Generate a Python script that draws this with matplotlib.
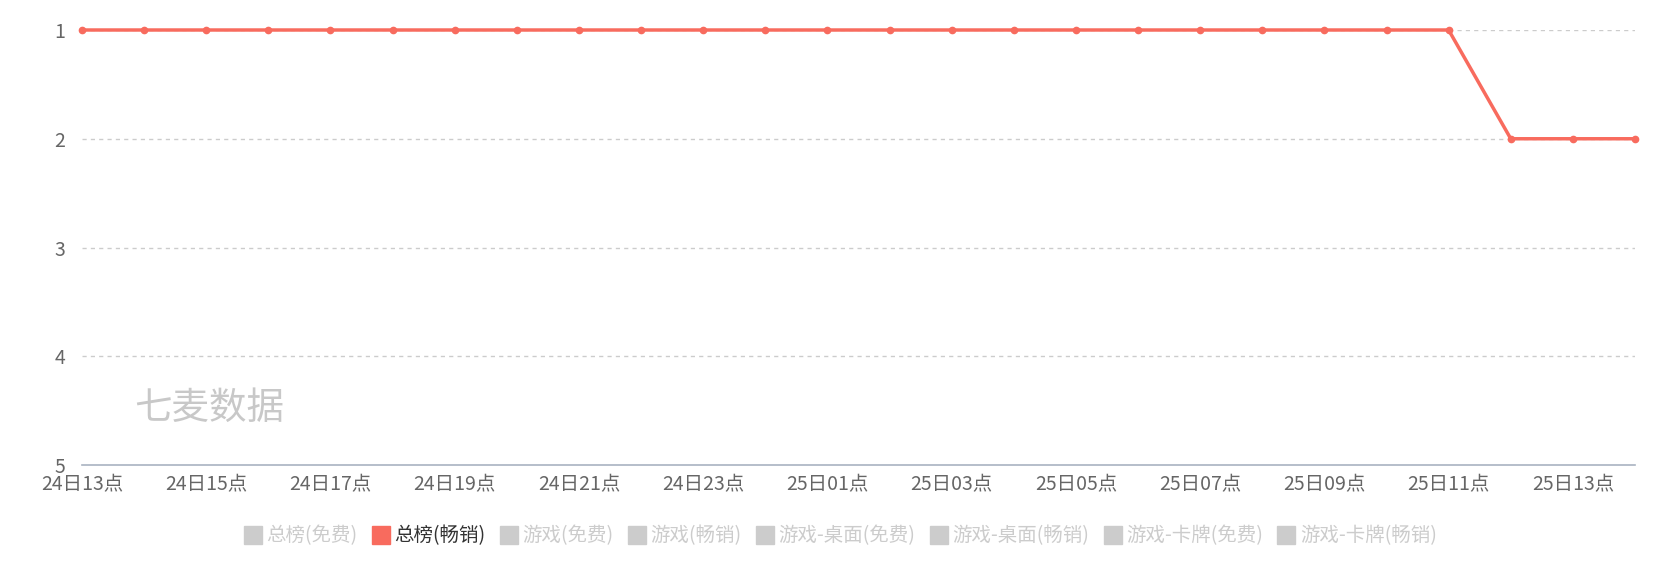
import numpy as np
import matplotlib.pyplot as plt
from matplotlib.lines import Line2D

plt.rcParams['font.family'] = ['Noto Sans CJK SC', 'DejaVu Sans']

# data
hours = ['24日13点', '24日14点', '24日15点', '24日16点', '24日17点', '24日18点',
         '24日19点', '24日20点', '24日21点', '24日22点', '24日23点',
         '25日00点', '25日01点', '25日02点', '25日03点', '25日04点', '25日05点',
         '25日06点', '25日07点', '25日08点', '25日09点', '25日10点', '25日11点',
         '25日12点', '25日13点', '25日14点']
rank_paid = [1, 1, 1, 1, 1, 1, 1, 1, 1, 1, 1, 1, 1, 1, 1, 1, 1, 1, 1, 1, 1, 1, 1,
             2, 2, 2]
legend_names = ['总榜(免费)', '总榜(畅销)', '游戏(免费)', '游戏(畅销)',
                '游戏-桌面(免费)', '游戏-桌面(畅销)', '游戏-卡牌(免费)', '游戏-卡牌(畅销)']
active = '总榜(畅销)'

red = '#f86b5e'

W, H = 1680, 585
fig = plt.figure(figsize=(W/100, H/100), dpi=100)
left, right, top, bottom = 82, 1635, 30, 465
ax = fig.add_axes([left/W, 1-bottom/H, (right-left)/W, (bottom-top)/H])

x = np.arange(len(hours))
ax.plot(x, rank_paid, color=red, lw=2.5, marker='o', ms=4.5, zorder=3, clip_on=False)

ax.set_xlim(0, len(hours)-1)
ax.set_ylim(5, 1)
ax.set_yticks([1, 2, 3, 4, 5])
ax.set_xticks(x[::2])
ax.set_xticklabels(hours[::2])

for s in ['top', 'right', 'left']:
    ax.spines[s].set_visible(False)
ax.spines['bottom'].set_color('#a9b3c1')
ax.spines['bottom'].set_linewidth(1.2)

for yv in [1, 2, 3, 4]:
    ax.axhline(yv, color='#cccccc', lw=1, ls=(0, (3, 3)), zorder=1)

ax.tick_params(axis='both', length=0, colors='#666666', labelsize=14)
ax.tick_params(axis='y', pad=12)
ax.tick_params(axis='x', pad=7)

# watermark
fig.text(134/W, 1-408/H, '七麦数据', fontsize=27, color='#c8c8c8', va='center', ha='left')

# legend
handles = []
for name in legend_names:
    c = red if name == active else '#cccccc'
    handles.append(Line2D([0], [0], marker='s', color='none', markerfacecolor=c,
                          markeredgecolor=c, markersize=13, label=name))
leg = fig.legend(handles=handles, loc='center', bbox_to_anchor=(0.5, 1-536/H),
                 ncol=len(legend_names), frameon=False, fontsize=14,
                 handletextpad=0.2, columnspacing=0.7, handlelength=1.0)
for t in leg.get_texts():
    t.set_color('#333333' if t.get_text() == active else '#cccccc')

fig.savefig('out.png', dpi=100)
